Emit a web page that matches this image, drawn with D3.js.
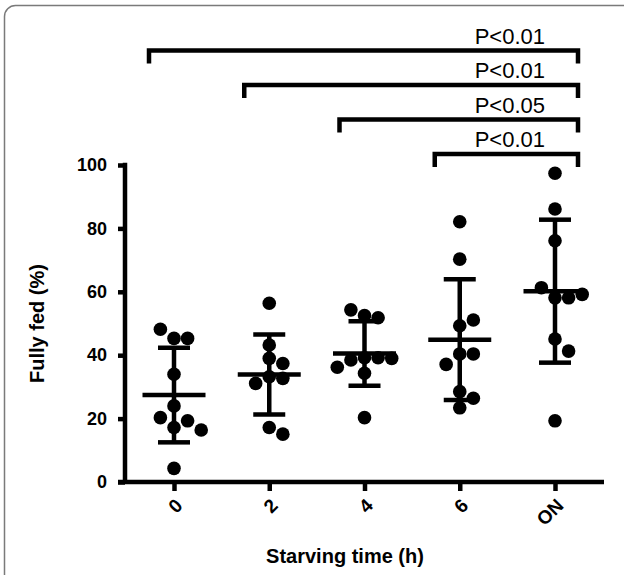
<!DOCTYPE html>
<html>
<head>
<meta charset="utf-8">
<script src="https://cdn.jsdelivr.net/npm/d3@7"></script>
<style>
  body { margin: 0; background: #fff; }
  svg { display: block; font-family: "Liberation Sans", Arial, sans-serif; }
</style>
</head>
<body>
<svg id="chart"></svg>
<script>
// groups on the x axis
const groups = ['0', '2', '4', '6', 'ON'];

// fully fed (%) for each animal, per starving time
const vals0  = [45.3, 45.3, 48.2, 34, 24, 17.2, 19.3, 20.3, 16.4, 4.3];
const vals2  = [56.4, 43.2, 39, 37.4, 33.2, 32.7, 31.1, 17.2, 15.1];
const vals4  = [39.2, 52.5, 51.8, 54.3, 39.2, 38.5, 39, 36.2, 34.3, 20.3];
const vals6  = [82.1, 70.3, 49.3, 51.1, 40.4, 40.4, 37.1, 28.5, 26.4, 23.4];
const valsON = [97.4, 86.1, 76.1, 58.1, 58.1, 61.3, 59.2, 45.1, 41.3, 19.3];

const yTicks = [0, 20, 40, 60, 80, 100];

// significance brackets: from group, to group, label
const brFrom  = ['0', '2', '4', '6'];
const brTo    = ['ON', 'ON', 'ON', 'ON'];
const brLabel = ['P<0.01', 'P<0.01', 'P<0.05', 'P<0.01'];

const W = 624, H = 575;
const svg = d3.select('#chart').attr('width', W).attr('height', H);

// panel frame (rounded, cut off at right and bottom)
svg.append('rect')
    .attr('x', 4.5).attr('y', 5.5)
    .attr('width', 640).attr('height', 620)
    .attr('rx', 11)
    .attr('fill', 'none')
    .attr('stroke', '#7a7a7a')
    .attr('stroke-width', 1.5);

const yScale = d3.scaleLinear().domain([0, 100]).range([482, 165]);
const xScale = d3.scalePoint().domain(groups).range([174, 555]);

const series = [vals0, vals2, vals4, vals6, valsON];
const axisX0 = 118, axisX1 = 604;
const lw = 4.5;

// y axis
const yAxis = d3.axisLeft(yScale).tickValues(yTicks).tickSize(7).tickPadding(11);
const yAxisG = svg.append('g')
    .attr('transform', `translate(${125},0)`)
    .call(yAxis);
yAxisG.select('.domain').remove();
yAxisG.selectAll('.tick line').attr('stroke', '#000').attr('stroke-width', lw);
yAxisG.selectAll('.tick text')
    .attr('font-size', 18).attr('font-weight', 'bold')
    .attr('font-family', '"Liberation Sans", Arial, sans-serif')
    .attr('fill', '#000');
svg.append('line')
    .attr('x1', 125).attr('x2', 125)
    .attr('y1', yScale(100) - lw / 2).attr('y2', yScale(0))
    .attr('stroke', '#000').attr('stroke-width', lw);

// x axis
const xAxis = d3.axisBottom(xScale).tickSize(9).tickFormat('');
const xAxisG = svg.append('g')
    .attr('transform', `translate(0,${yScale(0)})`)
    .call(xAxis);
xAxisG.select('.domain').remove();
xAxisG.selectAll('.tick line').attr('stroke', '#000').attr('stroke-width', lw);
svg.append('line')
    .attr('x1', axisX0).attr('x2', axisX1)
    .attr('y1', yScale(0)).attr('y2', yScale(0))
    .attr('stroke', '#000').attr('stroke-width', lw);

// rotated category labels
svg.append('g').selectAll('text')
    .data(groups)
    .join('text')
    .attr('transform', d => `translate(${xScale(d) + 5},${yScale(0) + 20}) rotate(-45)`)
    .attr('text-anchor', 'end')
    .attr('dy', '0.35em')
    .attr('font-size', 19)
    .attr('font-weight', 'bold')
    .text(d => d);

// axis titles
svg.append('text')
    .attr('x', 345).attr('y', 563)
    .attr('text-anchor', 'middle')
    .attr('font-size', 20).attr('font-weight', 'bold')
    .text('Starving time (h)');

svg.append('text')
    .attr('transform', `translate(44,${(yScale(0) + yScale(100)) / 2}) rotate(-90)`)
    .attr('text-anchor', 'middle')
    .attr('font-size', 20).attr('font-weight', 'bold')
    .text('Fully fed (%)');

// dots, dodged sideways so they don't overlap
const r = 6.8;
const step = 2 * r;
const dots = [];
series.forEach((vals, gi) => {
    const cx = xScale(groups[gi]);
    const placed = [];
    vals.forEach(v => {
        const cy = yScale(v);
        let k = 0, off = 0;
        while (true) {
            off = k === 0 ? 0 : (k % 2 === 1 ? 1 : -1) * Math.ceil(k / 2) * step;
            const hit = placed.some(p => Math.hypot(p.x - (cx + off), p.y - cy) < step - 0.5);
            if (!hit) break;
            k++;
        }
        placed.push({x: cx + off, y: cy});
    });
    dots.push(...placed);
});

svg.append('g').selectAll('circle')
    .data(dots)
    .join('circle')
    .attr('cx', d => d.x)
    .attr('cy', d => d.y)
    .attr('r', r)
    .attr('fill', '#000');

// mean and SD bars
const stats = series.map((vals, gi) => ({
    g: groups[gi],
    mean: d3.mean(vals),
    sd: d3.deviation(vals)
}));

const bars = svg.append('g').attr('stroke', '#000').attr('stroke-width', lw);
stats.forEach(s => {
    const cx = xScale(s.g);
    bars.append('line')
        .attr('x1', cx).attr('x2', cx)
        .attr('y1', yScale(s.mean + s.sd)).attr('y2', yScale(s.mean - s.sd));
    bars.append('line')
        .attr('x1', cx - 31.5).attr('x2', cx + 31.5)
        .attr('y1', yScale(s.mean)).attr('y2', yScale(s.mean));
    [s.mean + s.sd, s.mean - s.sd].forEach(v => {
        bars.append('line')
            .attr('x1', cx - 16).attr('x2', cx + 16)
            .attr('y1', yScale(v)).attr('y2', yScale(v));
    });
});

// significance brackets, lowest first
const brTop0 = yScale(100) - 11;
const brGap = 34.5;
brFrom.forEach((f, i) => {
    const lvl = brFrom.length - 1 - i;
    const top = brTop0 - lvl * brGap;
    const x1 = xScale(f) - 25;
    const x2 = xScale(brTo[i]) + 23;
    svg.append('path')
        .attr('d', `M${x1},${top + 13}V${top}H${x2}V${top + 13}`)
        .attr('fill', 'none')
        .attr('stroke', '#000')
        .attr('stroke-width', lw);
    svg.append('text')
        .attr('x', x2 - 33)
        .attr('y', top - 7)
        .attr('text-anchor', 'end')
        .attr('font-size', 22)
        .text(brLabel[i]);
});
</script>
</body>
</html>
